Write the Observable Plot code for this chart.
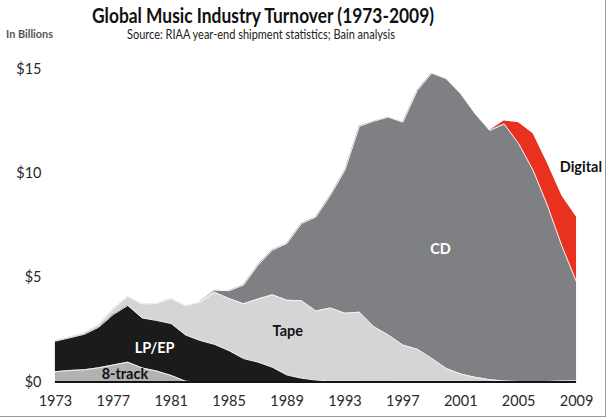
<!DOCTYPE html>
<html>
<head>
<meta charset="utf-8">
<script src="https://cdn.jsdelivr.net/npm/d3@7"></script>
<script src="https://cdn.jsdelivr.net/npm/@observablehq/plot@0.6"></script>
<style>
  html, body { margin: 0; padding: 0; background: #fff; }
  #wrap { position: relative; width: 605px; height: 416px; border-right: 1px solid #9a9a9a; border-bottom: 1px solid #9a9a9a; overflow: hidden; font-family: Lato, "Open Sans", sans-serif; }
  #header { position: relative; height: 48px; }
  .t { position: absolute; white-space: nowrap; line-height: 1; transform-origin: 0 50%; }
  #title { top: 4px; font-size: 21px; font-weight: 700; color: #111; }
  #sub { top: 29px; font-size: 12.5px; color: #222; }
  #unit { top: 28px; font-size: 12px; font-weight: 700; color: #555; }
  #chart svg { display: block; }
</style>
</head>
<body>
<div id="wrap">
  <div id="header">
    <div class="t" id="title" data-left="92" data-w="342">Global Music Industry Turnover (1973-2009)</div>
    <div class="t" id="sub" data-left="127" data-w="268">Source: RIAA year-end shipment statistics; Bain analysis</div>
    <div class="t" id="unit" data-left="6" data-w="47">In Billions</div>
  </div>
  <div id="chart"></div>
</div>
<script>
// ---- data (US$ billions), 1973..2009 ----
const years = [1973,1974,1975,1976,1977,1978,1979,1980,1981,1982,1983,1984,1985,1986,1987,1988,1989,1990,1991,1992,1993,1994,1995,1996,1997,1998,1999,2000,2001,2002,2003,2004,2005,2006,2007,2008,2009];
const formats = ["8-track", "LP/EP", "Tape", "CD", "Digital"];
const colors  = ["#b2b2b2", "#1b1b1b", "#d5d5d5", "#7f8084", "#e8311f"];

const eightTrack = [0.49,0.55,0.58,0.68,0.81,0.95,0.67,0.52,0.31,0.03,0,null,null,null,null,null,null,null,null,null,null,null,null,null,null,null,null,null,null,null,null,null,null,null,null,null,null];
const lpEp = [1.47,1.57,1.71,1.95,2.43,2.72,2.40,2.43,2.49,2.22,1.99,1.80,1.50,1.12,0.95,0.70,0.33,0.18,0.09,0.05,0.03,0.02,0.02,0.02,0.03,0.03,0.03,0.03,0.03,0.02,0.02,0.02,0.02,0.02,0.02,0.05,0.06];
const tape = [0.04,0.05,0.07,0.11,0.26,0.43,0.67,0.81,1.20,1.41,1.84,2.50,2.50,2.63,3.03,3.48,3.59,3.72,3.31,3.50,3.27,3.33,2.63,2.23,1.74,1.54,1.10,0.62,0.35,0.20,0.09,0.02,0,null,null,null,null];
const cd = [null,null,null,null,null,null,null,null,null,null,0.02,0.10,0.38,0.90,1.63,2.15,2.73,3.70,4.52,5.41,6.86,8.92,9.87,10.46,10.70,12.42,13.69,13.90,13.45,12.65,11.96,12.34,11.42,10.14,8.43,6.45,4.74];
const digital = [null,null,null,null,null,null,null,null,null,null,null,null,null,null,null,null,null,null,null,null,null,null,null,null,null,null,null,null,null,null,0,0.15,1.00,1.76,2.03,2.41,3.10];

const xTicks = [1973,1977,1981,1985,1989,1993,1997,2001,2005,2009];
const yTicks = [0,5,10,15];

const labels = [
  {year: 1977.8, value: 0.38, text: "8-track", color: "#111"},
  {year: 1979.85, value: 1.63, text: "LP/EP", color: "#fff"},
  {year: 1989.05, value: 2.44, text: "Tape", color: "#111"},
  {year: 1999.6, value: 6.37, text: "CD", color: "#fff"},
  {year: 2009.3, value: 10.3, text: "Digital", color: "#111"}
];

// ---- tidy table ----
const seriesByFormat = {"8-track": eightTrack, "LP/EP": lpEp, "Tape": tape, "CD": cd, "Digital": digital};
const tidy = [];
for (const f of formats) {
  seriesByFormat[f].forEach((v, i) => { if (v != null) tidy.push({year: years[i], format: f, value: v}); });
}

const chart = Plot.plot({
  width: 606,
  height: 369,
  marginLeft: 55,
  marginRight: 29,
  marginTop: 21,
  marginBottom: 35,
  style: {fontFamily: "Lato, 'Open Sans', sans-serif", fontSize: "14px", color: "#2a2a2a", background: "transparent"},
  x: {domain: [1973, 2009]},
  y: {domain: [0, 15]},
  color: {domain: formats, range: colors},
  marks: [
    Plot.areaY(tidy, {x: "year", y: "value", z: "format", fill: "format", order: formats}),
    Plot.lineY(tidy.filter(d => d.format !== "Digital"),
      Plot.stackY2({x: "year", y: "value", z: "format", order: formats, stroke: "#f4f4f4", strokeWidth: 1})),
    Plot.ruleY([0], {stroke: "#151515", strokeWidth: 2}),
    Plot.axisX({ticks: xTicks, tickFormat: d => String(d), tickSize: 0, tickPadding: 14, fontSize: 14.5, label: null}),
    Plot.axisY({ticks: yTicks, tickFormat: d => "$" + d, tickSize: 0, tickPadding: 14, fontSize: 14.5, label: null}),
    Plot.text(labels, {x: "year", y: "value", text: "text", fill: "color", fontWeight: "bold", fontSize: 14.5})
  ]
});
document.getElementById("chart").appendChild(chart);

// fit header texts horizontally to the reference widths (Calibri-like narrow text)
for (const el of document.querySelectorAll("#header .t")) {
  const w = el.getBoundingClientRect().width;
  const target = +el.dataset.w;
  el.style.left = el.dataset.left + "px";
  if (w > 0) el.style.transform = "scaleX(" + (target / w) + ")";
}
</script>
</body>
</html>
